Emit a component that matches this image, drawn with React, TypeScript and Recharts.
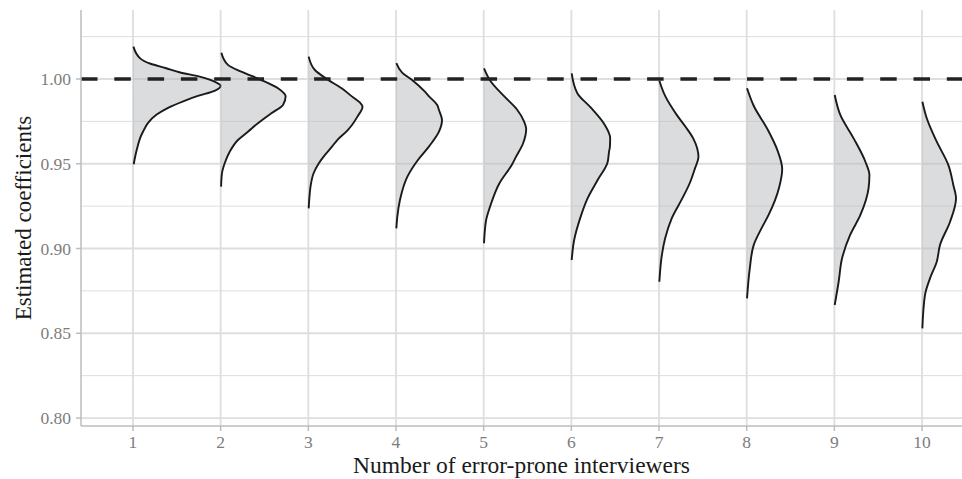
import React from 'react';
import {
  ComposedChart,
  Area,
  XAxis,
  YAxis,
  CartesianGrid,
  ReferenceLine,
} from 'recharts';

// Number of error-prone interviewers (one density per group)
const interviewers = [1, 2, 3, 4, 5, 6, 7, 8, 9, 10];

// Each profile: [estimated coefficient, scaled density] from top to bottom
const dens1: [number, number][] = [
  [1.0191, 0.005], [1.012, 0.085], [1.009, 0.2], [1.0065, 0.37], [1.004, 0.53],
  [1.0014, 0.76], [0.9985, 0.93], [0.996, 1.0], [0.993, 0.93], [0.99, 0.74],
  [0.987, 0.58], [0.983, 0.4], [0.979, 0.27], [0.974, 0.17], [0.969, 0.115],
  [0.965, 0.08], [0.96, 0.052], [0.955, 0.028], [0.9497, 0.008],
];
const dens2: [number, number][] = [
  [1.0155, 0.008], [1.0083, 0.083], [1.0043, 0.236], [0.9994, 0.464], [0.9945, 0.654],
  [0.9896, 0.741], [0.9847, 0.711], [0.9798, 0.578], [0.9739, 0.425], [0.9689, 0.311],
  [0.964, 0.197], [0.9571, 0.103], [0.9503, 0.046], [0.9444, 0.015], [0.9365, 0.005],
];
const dens3: [number, number][] = [
  [1.0132, 0.004], [1.0053, 0.075], [1.0, 0.21], [0.9945, 0.38], [0.9896, 0.5],
  [0.986, 0.59], [0.9837, 0.618], [0.9778, 0.56], [0.973, 0.5], [0.9699, 0.45],
  [0.964, 0.33], [0.9601, 0.27], [0.9552, 0.19], [0.9503, 0.12], [0.9444, 0.06],
  [0.9365, 0.025], [0.93, 0.012], [0.9237, 0.004],
];
const dens4: [number, number][] = [
  [1.0094, 0.004], [1.0038, 0.07], [0.9994, 0.184], [0.9925, 0.33], [0.9896, 0.38],
  [0.9847, 0.47], [0.9817, 0.49], [0.9758, 0.525], [0.9689, 0.49], [0.9601, 0.375],
  [0.9522, 0.25], [0.9424, 0.13], [0.9286, 0.045], [0.9188, 0.015], [0.9119, 0.004],
];
const dens5: [number, number][] = [
  [1.0063, 0.004], [0.999, 0.075], [0.99, 0.23], [0.982, 0.38], [0.975, 0.46],
  [0.9705, 0.485], [0.9621, 0.45], [0.9542, 0.37], [0.9493, 0.32], [0.9385, 0.18],
  [0.925, 0.075], [0.917, 0.029], [0.9031, 0.004],
];
const dens6: [number, number][] = [
  [1.0033, 0.004], [0.9915, 0.07], [0.9832, 0.22], [0.9734, 0.375], [0.965, 0.443],
  [0.96, 0.44], [0.9571, 0.43], [0.9508, 0.413], [0.9404, 0.3], [0.9296, 0.185],
  [0.9178, 0.1], [0.905, 0.032], [0.8932, 0.004],
];
const dens7: [number, number][] = [
  [0.999, 0.004], [0.99, 0.07], [0.979, 0.2], [0.972, 0.3], [0.965, 0.39],
  [0.954, 0.45], [0.9473, 0.41], [0.9385, 0.35], [0.93, 0.27], [0.9178, 0.145],
  [0.906, 0.07], [0.896, 0.032], [0.8804, 0.004],
];
const dens8: [number, number][] = [
  [0.9945, 0.004], [0.9842, 0.08], [0.9704, 0.237], [0.958, 0.35], [0.9468, 0.405],
  [0.936, 0.37], [0.9198, 0.25], [0.912, 0.17], [0.902, 0.08], [0.888, 0.035],
  [0.8706, 0.004],
];
const dens9: [number, number][] = [
  [0.9906, 0.004], [0.9788, 0.068], [0.965, 0.22], [0.9512, 0.354], [0.9434, 0.4],
  [0.9355, 0.39], [0.9198, 0.297], [0.908, 0.18], [0.8942, 0.088], [0.8804, 0.049],
  [0.8667, 0.004],
];
const dens10: [number, number][] = [
  [0.9866, 0.004], [0.9768, 0.054], [0.963, 0.168], [0.9493, 0.3], [0.9375, 0.357],
  [0.9296, 0.388], [0.9158, 0.32], [0.9021, 0.205], [0.8922, 0.168], [0.8824, 0.091],
  [0.8726, 0.034], [0.8529, 0.004],
];

const profiles = [dens1, dens2, dens3, dens4, dens5, dens6, dens7, dens8, dens9, dens10];

const yTicks = [0.8, 0.85, 0.9, 0.95, 1.0];
const yMinor = [0.825, 0.875, 0.925, 0.975, 1.025];
const reference = 1.0;

const xDomain: [number, number] = [0.407, 10.456];
const yDomain: [number, number] = [0.7953, 1.0407];

const FONT = '"Liberation Serif", "Times New Roman", serif';
const TICK_COLOR = '#7d7d7d';
const AXIS_COLOR = '#bdbdbd';
const GRID_COLOR = '#dedede';

const series = interviewers.map((g, i) => ({
  g,
  data: profiles[i].map(([c, w]) => ({ y: c, x: g + w })),
}));

export default function App() {
  return (
    <div style={{ position: 'absolute', left: 0, top: 0 }}>
      <ComposedChart
        width={962}
        height={479}
        layout="vertical"
        margin={{ top: 10, right: 0, bottom: 0, left: 0 }}
      >
        <CartesianGrid
          horizontalValues={yMinor}
          verticalValues={[]}
          vertical={false}
          stroke={GRID_COLOR}
          strokeWidth={1}
          strokeDasharray=""
        />
        <CartesianGrid
          horizontalValues={yTicks}
          verticalValues={interviewers}
          stroke={GRID_COLOR}
          strokeWidth={1.8}
          strokeDasharray=""
        />
        <XAxis
          type="number"
          domain={xDomain}
          allowDataOverflow
          ticks={interviewers}
          interval={0}
          tickSize={5}
          tickMargin={5}
          height={53}
          stroke={AXIS_COLOR}
          strokeWidth={1.5}
          tick={{ fill: TICK_COLOR, fontSize: 17.5, fontFamily: FONT }}
          label={{
            content: (p: any) => {
              const vb = p.viewBox || { x: 81, y: 426, width: 881, height: 53 };
              return (
                <text
                  x={vb.x + vb.width / 2}
                  y={vb.y + 47}
                  textAnchor="middle"
                  fill="#1a1a1a"
                  fontSize={23.5}
                  fontFamily={FONT}
                >
                  Number of error-prone interviewers
                </text>
              );
            },
          }}
        />
        <XAxis
          xAxisId="top"
          orientation="top"
          type="number"
          domain={xDomain}
          allowDataOverflow
          height={0}
          tick={false}
          tickLine={false}
          stroke={AXIS_COLOR}
          strokeWidth={1.5}
        />
        <YAxis
          type="number"
          dataKey="y"
          reversed
          domain={yDomain}
          allowDataOverflow
          ticks={yTicks}
          interval={0}
          width={81}
          tickSize={5}
          tickMargin={5}
          stroke={AXIS_COLOR}
          strokeWidth={1.5}
          tickFormatter={(v: number) => v.toFixed(2)}
          tick={{ fill: TICK_COLOR, fontSize: 17.5, fontFamily: FONT }}
          label={{
            content: (p: any) => {
              const vb = p.viewBox || { x: 0, y: 10, width: 81, height: 416 };
              const cx = vb.x + 31;
              const cy = vb.y + vb.height / 2;
              return (
                <text
                  x={cx}
                  y={cy}
                  transform={`rotate(-90 ${cx} ${cy})`}
                  textAnchor="middle"
                  fill="#1a1a1a"
                  fontSize={23}
                  fontFamily={FONT}
                >
                  Estimated coefficients
                </text>
              );
            },
          }}
        />
        {series.map((s) => (
          <Area
            key={s.g}
            data={s.data}
            dataKey="x"
            baseValue={s.g}
            type="monotone"
            stroke="#1a1a1a"
            strokeWidth={1.9}
            fill="#b8babd"
            fillOpacity={0.5}
            dot={false}
            activeDot={false}
            isAnimationActive={false}
          />
        ))}
        <ReferenceLine
          y={reference}
          stroke="#222222"
          strokeWidth={3.6}
          strokeDasharray="16.5 16.8"
        />
      </ComposedChart>
    </div>
  );
}
